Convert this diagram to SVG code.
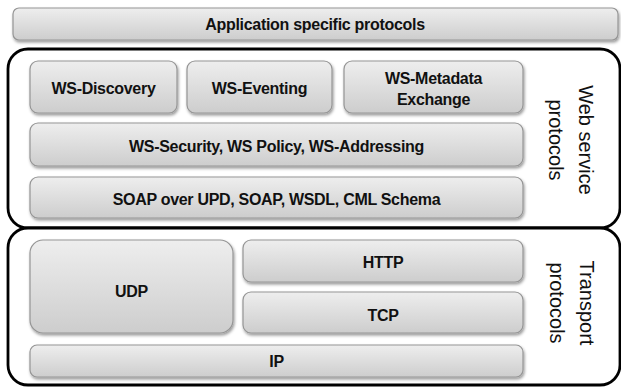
<svg xmlns="http://www.w3.org/2000/svg" width="621" height="387" viewBox="0 0 621 387">
<defs>
<linearGradient id="g" x1="0" y1="0" x2="0" y2="1">
<stop offset="0" stop-color="#eeeeee"/>
<stop offset="1" stop-color="#cdcdcd"/>
</linearGradient>
<filter id="sh" x="-10%" y="-20%" width="120%" height="150%">
<feDropShadow dx="1" dy="2" stdDeviation="1.5" flood-color="#000" flood-opacity="0.4"/>
</filter>
<style>
.box{fill:url(#g);stroke:#959595;stroke-width:1.2;filter:url(#sh)}
.lbl{font-family:"Liberation Sans",Arial,sans-serif;font-weight:bold;font-size:16px;fill:#111;text-anchor:middle;letter-spacing:-0.3px}
.side{font-family:"Liberation Sans",Arial,sans-serif;font-size:20px;fill:#111;text-anchor:middle}
.outer{fill:#fff;stroke:#000;stroke-width:2.8}
</style>
</defs>
<rect width="621" height="387" fill="#fff"/>
<g id="app">
<rect class="box" x="13" y="8" width="605" height="32" rx="6"/>
<text class="lbl" x="315" y="30">Application specific protocols</text>
</g>
<g id="web-service">
<rect class="outer" x="8" y="49" width="612" height="179" rx="20"/>
<text class="side" transform="translate(579,140) rotate(90)">Web service</text>
<text class="side" transform="translate(549,140) rotate(90)">protocols</text>
</g>
<g id="transport">
<rect class="outer" x="8" y="228" width="612" height="157" rx="20"/>
<text class="side" transform="translate(580,303) rotate(90)">Transport</text>
<text class="side" transform="translate(550,303) rotate(90)">protocols</text>
</g>
<g id="ws-discovery">
<rect class="box" x="30" y="61" width="147" height="52" rx="8"/>
<text class="lbl" x="103.5" y="94">WS-Discovery</text>
</g>
<g id="ws-eventing">
<rect class="box" x="187" y="61" width="145" height="52" rx="8"/>
<text class="lbl" x="259.5" y="94">WS-Eventing</text>
</g>
<g id="ws-metadata">
<rect class="box" x="344" y="61" width="179" height="52" rx="8"/>
<text class="lbl" x="433.5" y="84">WS-Metadata</text>
<text class="lbl" x="433.5" y="105">Exchange</text>
</g>
<g id="ws-security">
<rect class="box" x="30" y="123" width="493" height="43" rx="8"/>
<text class="lbl" x="276.5" y="152">WS-Security, WS Policy, WS-Addressing</text>
</g>
<g id="soap">
<rect class="box" x="30" y="177" width="493" height="41" rx="8"/>
<text class="lbl" x="276.5" y="205">SOAP over UPD, SOAP, WSDL, CML Schema</text>
</g>
<g id="udp">
<rect class="box" x="30" y="240" width="203" height="93" rx="13"/>
<text class="lbl" x="131.5" y="297">UDP</text>
</g>
<g id="http">
<rect class="box" x="243" y="240" width="280" height="42" rx="8"/>
<text class="lbl" x="383" y="268">HTTP</text>
</g>
<g id="tcp">
<rect class="box" x="243" y="292" width="280" height="41" rx="8"/>
<text class="lbl" x="383" y="321">TCP</text>
</g>
<g id="ip">
<rect class="box" x="30" y="345" width="493" height="32" rx="7"/>
<text class="lbl" x="276.5" y="367">IP</text>
</g>
<g id="connectors"></g>
</svg>
